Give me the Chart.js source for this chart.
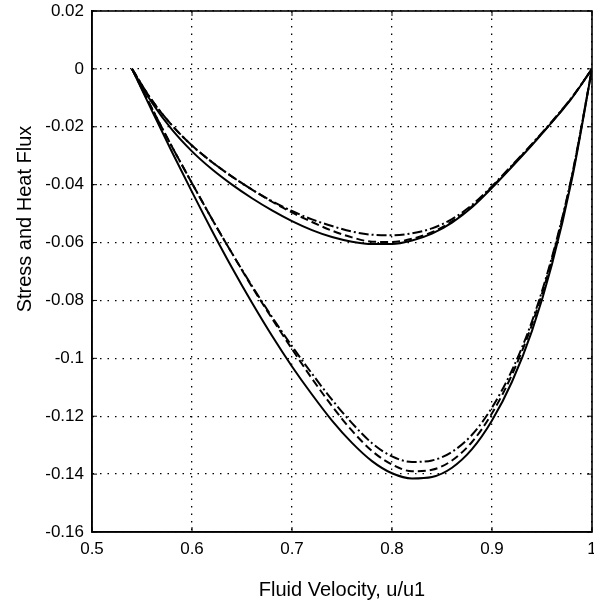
<!DOCTYPE html>
<html>
<head>
<meta charset="utf-8">
<script src="https://cdn.jsdelivr.net/npm/chart.js@4/dist/chart.umd.min.js"></script>
<style>
  body { margin: 0; background: #fff; }
  #wrap { width: 594px; height: 604px; }
</style>
</head>
<body>
<div id="wrap"><canvas id="myChart"></canvas></div>
<script>
// fluid velocity u/u1
const velocity = [0.54, 0.56, 0.58, 0.60, 0.62, 0.64, 0.66, 0.68, 0.70, 0.72, 0.74, 0.76, 0.78,
    0.80, 0.82, 0.84, 0.86, 0.88, 0.90, 0.92, 0.94, 0.96, 0.98, 1.00];

// lower family (stress)
const stressSolid = [0, -0.0145, -0.0287, -0.0425, -0.0559, -0.0687, -0.0808, -0.0922, -0.1028, -0.1125, -0.1215, -0.1292, -0.1355,
    -0.1397, -0.1415, -0.1410, -0.1378, -0.1314, -0.1215, -0.1081, -0.0905, -0.0675, -0.038, 0];
const stressDashed = [0, -0.0137, -0.0269, -0.0395, -0.0519, -0.0637, -0.0753, -0.0862, -0.0968, -0.107, -0.1165, -0.125, -0.132,
    -0.1367, -0.139, -0.1385, -0.1353, -0.1289, -0.119, -0.1056, -0.0883, -0.0657, -0.037, 0];
const stressDashDot = [0, -0.0137, -0.0269, -0.0395, -0.0519, -0.0637, -0.075, -0.0857, -0.0958, -0.1053, -0.1143, -0.1224, -0.1293,
    -0.1339, -0.1358, -0.1353, -0.1323, -0.1264, -0.117, -0.1041, -0.0872, -0.065, -0.0367, 0];

// upper family (heat flux)
const heatSolid = [0, -0.0117, -0.021, -0.0285, -0.0347, -0.04, -0.0447, -0.0489, -0.0526, -0.0557, -0.0581, -0.0597, -0.0605,
    -0.0605, -0.0593, -0.0569, -0.0531, -0.0478, -0.0411, -0.0338, -0.0263, -0.0184, -0.0100, 0];
const heatDashed = [0, -0.0109, -0.0195, -0.0265, -0.0322, -0.0372, -0.0417, -0.0459, -0.0496, -0.0529, -0.0559, -0.0582, -0.0597,
    -0.0598, -0.0587, -0.0564, -0.0527, -0.0475, -0.0408, -0.0335, -0.0261, -0.0183, -0.0099, 0];
const heatDashDot = [0, -0.0109, -0.0195, -0.0265, -0.0322, -0.0372, -0.0417, -0.0457, -0.0491, -0.052, -0.0543, -0.0562, -0.0573,
    -0.0575, -0.0568, -0.0551, -0.0519, -0.047, -0.0405, -0.0333, -0.0259, -0.0181, -0.0098, 0];

const xTicks = [0.5, 0.6, 0.7, 0.8, 0.9, 1];
const yTicks = [0.02, 0, -0.02, -0.04, -0.06, -0.08, -0.1, -0.12, -0.14, -0.16];
const yTitle = "Stress and Heat Flux";

const pts = (ys) => velocity.map((x, i) => ({ x: x, y: ys[i] }));

function line(label, ys, dash) {
    return {
        label: label,
        data: pts(ys),
        borderColor: "#000",
        borderWidth: 2,
        borderDash: dash,
        pointRadius: 0,
        cubicInterpolationMode: "monotone",
        fill: false,
    };
}

const fontFamily = "'Liberation Sans', Arial, Helvetica, sans-serif";
const tickFont = { family: fontFamily, size: 17 };
const titleFont = { family: fontFamily, size: 20 };

const ctx = document.getElementById("myChart").getContext("2d");
const myChart = new Chart(ctx, {
    type: "line",
    data: {
        datasets: [
            line("stress solid", stressSolid, []),
            line("stress dashed", stressDashed, [8, 4]),
            line("stress dash-dot", stressDashDot, [10, 3, 2, 3]),
            line("heat solid", heatSolid, []),
            line("heat dashed", heatDashed, [8, 4]),
            line("heat dash-dot", heatDashDot, [10, 3, 2, 3]),
        ],
    },
    options: {
        responsive: true,
        maintainAspectRatio: false,
        animation: false,
        layout: { padding: { top: 11, right: 2, left: 0, bottom: 0 } },
        plugins: { legend: { display: false }, tooltip: { enabled: false } },
        scales: {
            x: {
                type: "linear",
                min: 0.5,
                max: 1,
                afterBuildTicks: (s) => { s.ticks = xTicks.map(v => ({ value: v })); },
                afterFit: (s) => { s.height = 72; s.paddingLeft = 0; s.paddingRight = 0; },
                ticks: {
                    color: "#000",
                    font: tickFont,
                    padding: 7,
                    maxRotation: 0,
                    callback: (v) => String(v),
                },
                border: { display: true, color: "#000", width: 1.5, dash: [1.5, 6] },
                grid: { color: "#000", lineWidth: 1.3, drawTicks: false },
                title: { display: true, text: "Fluid Velocity, u/u1", color: "#000", font: titleFont, padding: { top: 0, bottom: 2 } },
            },
            y: {
                min: -0.16,
                max: 0.02,
                afterBuildTicks: (s) => { s.ticks = yTicks.map(v => ({ value: v })); },
                afterFit: (s) => { s.width = 92; s.paddingTop = 0; s.paddingBottom = 0; },
                ticks: {
                    color: "#000",
                    font: tickFont,
                    padding: 8,
                    callback: (v) => String(Math.round(v * 100) / 100),
                },
                border: { display: true, color: "#000", width: 1.5, dash: [1.5, 6] },
                grid: { color: "#000", lineWidth: 1.3, drawTicks: false },
                title: { display: false },
            },
        },
    },
    plugins: [{
        id: "frame",
        afterDraw(chart) {
            const a = chart.chartArea;
            const c = chart.ctx;
            c.save();
            c.strokeStyle = "#000";
            c.lineWidth = 1.6;
            c.setLineDash([]);
            c.strokeRect(a.left, a.top, a.right - a.left, a.bottom - a.top);
            // short inward tick marks, as in the original
            c.lineWidth = 1;
            const xs = chart.scales.x, ys = chart.scales.y;
            xTicks.forEach(v => {
                const px = xs.getPixelForValue(v);
                c.beginPath(); c.moveTo(px, a.bottom); c.lineTo(px, a.bottom - 5); c.stroke();
                c.beginPath(); c.moveTo(px, a.top); c.lineTo(px, a.top + 5); c.stroke();
            });
            yTicks.forEach(v => {
                const py = ys.getPixelForValue(v);
                c.beginPath(); c.moveTo(a.left, py); c.lineTo(a.left + 5, py); c.stroke();
                c.beginPath(); c.moveTo(a.right, py); c.lineTo(a.right - 5, py); c.stroke();
            });
            // y title sits above the middle of the axis in the original
            c.translate(25, a.top + 208);
            c.rotate(-Math.PI / 2);
            c.font = titleFont.size + "px " + fontFamily;
            c.fillStyle = "#000";
            c.textAlign = "center";
            c.textBaseline = "middle";
            c.fillText(yTitle, 0, 0);
            c.restore();
        },
    }],
});
</script>
</body>
</html>
